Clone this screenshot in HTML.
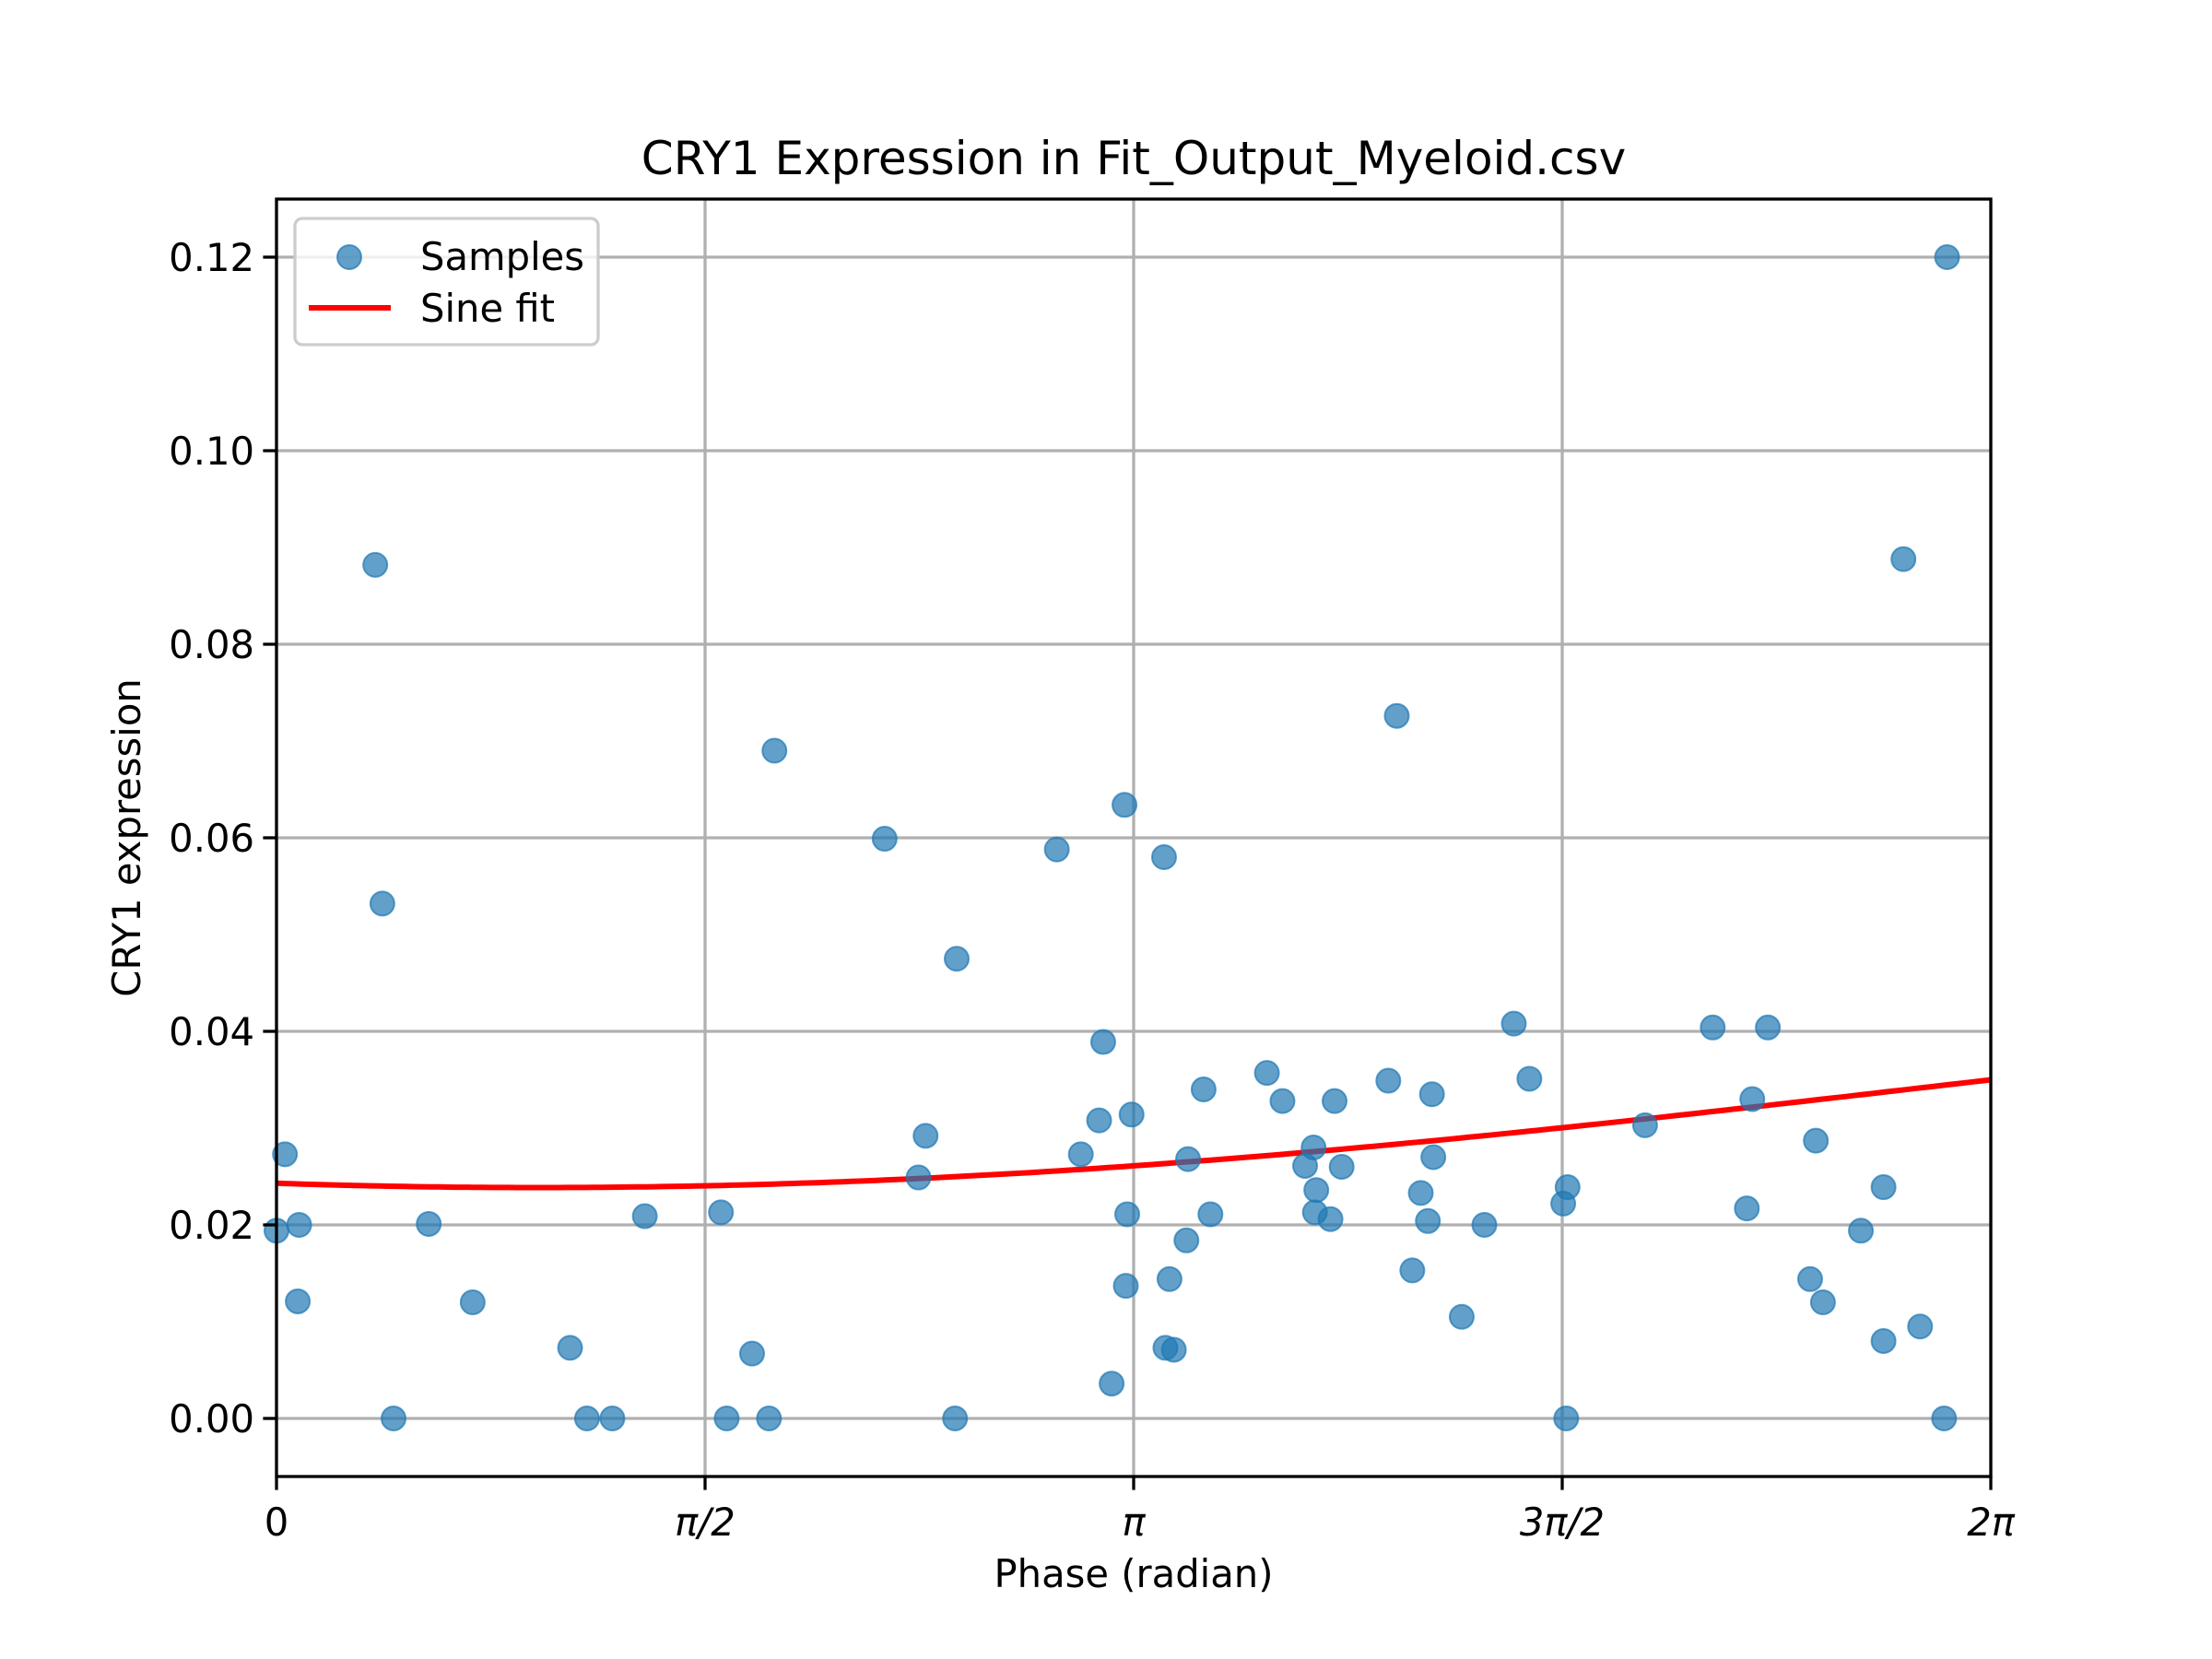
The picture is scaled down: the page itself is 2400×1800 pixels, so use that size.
<!DOCTYPE html>
<html><head><meta charset="utf-8">
<style>
html,body{margin:0;padding:0;background:#fff;}
svg{display:block;font-family:"DejaVu Sans","Liberation Sans",sans-serif;}
</style></head>
<body>
<svg id="chart" width="2400" height="1800" viewBox="0 0 2400 1800" xmlns="http://www.w3.org/2000/svg">
<rect width="2400" height="1800" fill="#fff"/>
<g id="grid"></g>
<g id="fit"></g>
<g id="pts"></g>
<rect x="300" y="216" width="1860" height="1386" fill="none" stroke="#000" stroke-width="3.3"/>
<g id="ticks"></g>
<text x="1230" y="189" font-size="50" text-anchor="middle">CRY1 Expression in Fit_Output_Myeloid.csv</text>
<text x="1230" y="1722" font-size="41.7" text-anchor="middle">Phase (radian)</text>
<text x="0" y="0" font-size="41.7" text-anchor="middle" transform="translate(152,909) rotate(-90)">CRY1 expression</text>
<g>
<rect x="320" y="237" width="329" height="137" rx="8" fill="#fff" fill-opacity="0.8" stroke="#cccccc" stroke-width="3.3"/>
<circle cx="379" cy="279" r="13" fill="#1f77b4" fill-opacity="0.7" stroke="#1f77b4" stroke-opacity="0.7" stroke-width="2"/>
<text x="456" y="293" font-size="41.7">Samples</text>
<line x1="335" y1="334" x2="424" y2="334" stroke="#ff0000" stroke-width="6"/>
<text x="456" y="349" font-size="41.7">Sine fit</text>
</g>
</svg>
<script>
const phases = [0,0.031,0.083,0.078,0.362,0.388,0.429,0.558,0.719,1.076,1.138,1.231,1.350,1.629,1.650,1.743,1.805,1.825,2.229,2.353,2.379,2.487,2.493,2.860,2.948,3.015,3.030,3.061,3.108,3.113,3.118,3.134,3.253,3.258,3.273,3.289,3.335,3.341,3.398,3.423,3.630,3.687,3.770,3.801,3.806,3.811,3.863,3.878,3.904,4.075,4.106,4.163,4.194,4.220,4.235,4.240,4.344,4.427,4.535,4.592,4.716,4.727,4.732,5.016,5.264,5.389,5.409,5.466,5.621,5.642,5.668,5.807,5.890,5.890,5.963,6.024,6.112,6.123];
const values = [0.0194,0.0273,0.0200,0.0121,0.0882,0.0532,0,0.0201,0.0120,0.0073,0,0,0.0209,0.0213,0,0.0067,0,0.0690,0.0599,0.0249,0.0292,0,0.0475,0.0588,0.0273,0.0308,0.0389,0.0036,0.0634,0.0137,0.0211,0.0314,0.0580,0.0073,0.0144,0.0071,0.0184,0.0268,0.0340,0.0211,0.0357,0.0328,0.0261,0.0280,0.0213,0.0236,0.0206,0.0328,0.0260,0.0349,0.0726,0.0153,0.0233,0.0204,0.0335,0.0270,0.0105,0.0200,0.0408,0.0351,0.0222,0,0.0239,0.0303,0.0404,0.0217,0.0330,0.0404,0.0144,0.0287,0.0120,0.0194,0.0239,0.0080,0.0888,0.0095,0,0.1200];
const fitParams = [0.0347, -0.00307, -0.0104, 0.3]; // c, a(sin), b(cos), omega
const yTicks = [0,0.02,0.04,0.06,0.08,0.10,0.12];
const yTickLabels = ["0.00","0.02","0.04","0.06","0.08","0.10","0.12"];
const xTicks = [0,Math.PI/2,Math.PI,1.5*Math.PI,2*Math.PI];
const xTickLabels = ["0","π/2","π","3π/2","2π"];

const NS="http://www.w3.org/2000/svg";
const L=300,R=2160,T=216,B=1602;
const xmin=0,xmax=2*Math.PI,ymin=-0.006,ymax=0.126;
const xs=v=>L+(v-xmin)/(xmax-xmin)*(R-L);
const ys=v=>B-(v-ymin)/(ymax-ymin)*(B-T);
function mk(tag,attrs,parent){const e=document.createElementNS(NS,tag);for(const k in attrs)e.setAttribute(k,attrs[k]);parent.appendChild(e);return e;}
const grid=document.getElementById('grid'),ticks=document.getElementById('ticks');
yTicks.forEach((v,i)=>{
  const y=ys(v);
  const g=mk('line',{x1:L,x2:R,y1:y,y2:y,stroke:'#b0b0b0','stroke-width':3.3},grid);
  
  
  const t=mk('line',{x1:L-14.6,x2:L,y1:y,y2:y,stroke:'#000','stroke-width':3.3},ticks);
  
  
  const tx=mk('text',{x:L-24,y:y+15,'font-size':41.7,'text-anchor':'end'},ticks);
  tx.textContent=yTickLabels[i];
  
  
});
xTicks.forEach((v,i)=>{
  const x=xs(v);
  const g=mk('line',{x1:x,x2:x,y1:T,y2:B,stroke:'#b0b0b0','stroke-width':3.3},grid);
  
  
  const t=mk('line',{x1:x,x2:x,y1:B,y2:B+14.6,stroke:'#000','stroke-width':3.3},ticks);
  
  
  const tx=mk('text',{x:x,y:B+64,'font-size':41.7,'text-anchor':'middle'},ticks);
  tx.textContent=xTickLabels[i];
  if(i>0) tx.setAttribute('font-style','italic');
  
  
});
const pts=document.getElementById('pts');
phases.forEach((p,i)=>{
  const c=mk('circle',{cx:xs(p),cy:ys(values[i]),r:13,fill:'#1f77b4','fill-opacity':0.7,stroke:'#1f77b4','stroke-opacity':0.7,'stroke-width':2},pts);
  
  
});
let d='';
for(let k=0;k<=200;k++){
  const x=xmin+(xmax-xmin)*k/200;
  const y=fitParams[0]+fitParams[1]*Math.sin(fitParams[3]*x)+fitParams[2]*Math.cos(fitParams[3]*x);
  d+=(k?'L':'M')+xs(x).toFixed(1)+','+ys(y).toFixed(1);
}
const fl=mk('path',{d:d,fill:'none',stroke:'#ff0000','stroke-width':6},document.getElementById('fit'));


</script>
</body></html>
